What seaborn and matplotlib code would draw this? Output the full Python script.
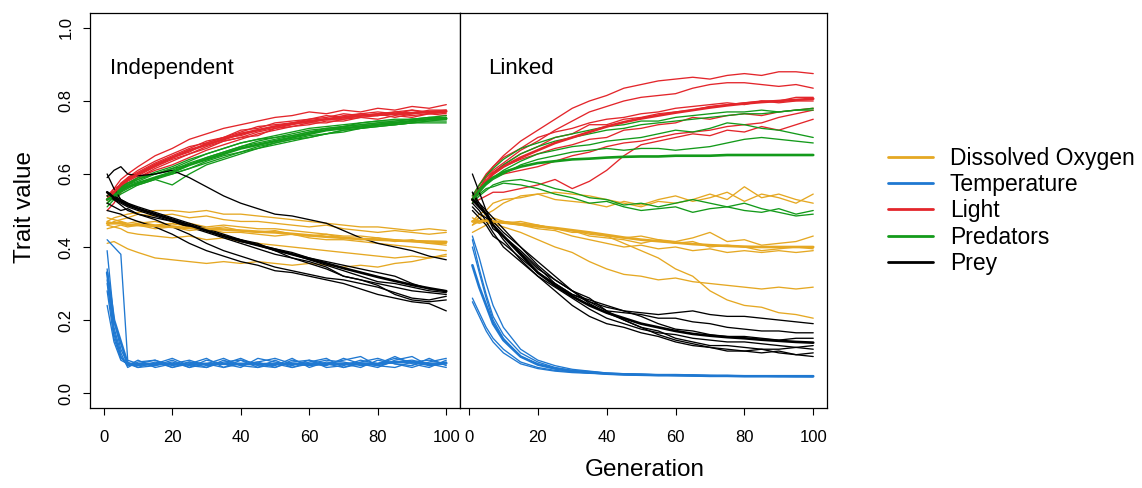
"""Trait trajectories over generations, independent vs linked traits."""

import matplotlib

matplotlib.use("Agg")

import matplotlib.pyplot as plt
import pandas as pd
import seaborn as sns
from matplotlib.lines import Line2D

GENERATIONS = [1, 3, 5, 7, 10, 15, 20, 25, 30, 35, 40, 45, 50, 55, 60, 65, 70, 75, 80, 85, 90, 95, 100]
TRAITS = ["Dissolved Oxygen", "Temperature", "Light", "Predators", "Prey"]
COLORS = {
    "Dissolved Oxygen": "#E5A823",
    "Temperature": "#1F78D1",
    "Light": "#E3262B",
    "Predators": "#139A1A",
    "Prey": "#000000",
}
X_TICKS = [0, 20, 40, 60, 80, 100]
Y_TICKS = [0.0, 0.2, 0.4, 0.6, 0.8, 1.0]

# ---- Independent panel: replicate runs and their mean ----
IND_OXYGEN = [
    [0.47, 0.48, 0.485, 0.49, 0.495, 0.50, 0.50, 0.495, 0.50, 0.49, 0.49, 0.485, 0.48, 0.475, 0.47, 0.465, 0.46, 0.455, 0.455, 0.45, 0.445, 0.45, 0.445],
    [0.46, 0.47, 0.475, 0.48, 0.49, 0.485, 0.49, 0.48, 0.485, 0.475, 0.47, 0.47, 0.465, 0.46, 0.455, 0.46, 0.45, 0.445, 0.44, 0.445, 0.44, 0.435, 0.44],
    [0.47, 0.465, 0.47, 0.46, 0.465, 0.47, 0.46, 0.465, 0.455, 0.46, 0.455, 0.45, 0.45, 0.445, 0.44, 0.435, 0.43, 0.43, 0.425, 0.42, 0.415, 0.41, 0.41],
    [0.45, 0.455, 0.46, 0.455, 0.46, 0.45, 0.455, 0.445, 0.45, 0.44, 0.44, 0.435, 0.43, 0.435, 0.425, 0.42, 0.42, 0.415, 0.41, 0.405, 0.40, 0.395, 0.39],
    [0.48, 0.475, 0.47, 0.465, 0.47, 0.46, 0.465, 0.455, 0.45, 0.455, 0.445, 0.44, 0.445, 0.435, 0.43, 0.435, 0.425, 0.42, 0.425, 0.415, 0.42, 0.41, 0.405],
    [0.41, 0.415, 0.405, 0.395, 0.385, 0.37, 0.365, 0.36, 0.355, 0.36, 0.355, 0.36, 0.355, 0.35, 0.355, 0.35, 0.345, 0.35, 0.345, 0.355, 0.36, 0.37, 0.375],
    [0.46, 0.455, 0.45, 0.44, 0.435, 0.43, 0.425, 0.43, 0.42, 0.425, 0.415, 0.41, 0.405, 0.40, 0.395, 0.39, 0.385, 0.38, 0.375, 0.37, 0.375, 0.37, 0.38],
]
IND_OXYGEN_MEAN = [0.465, 0.465, 0.465, 0.46, 0.46, 0.458, 0.455, 0.452, 0.45, 0.448, 0.445, 0.442, 0.44, 0.436, 0.432, 0.428, 0.425, 0.422, 0.42, 0.418, 0.416, 0.415, 0.414]

IND_TEMPERATURE = [
    [0.42, 0.40, 0.38, 0.09, 0.08, 0.075, 0.09, 0.07, 0.08, 0.095, 0.075, 0.085, 0.07, 0.09, 0.08, 0.075, 0.095, 0.08, 0.07, 0.09, 0.10, 0.075, 0.085],
    [0.39, 0.20, 0.12, 0.08, 0.07, 0.085, 0.07, 0.08, 0.095, 0.07, 0.09, 0.08, 0.075, 0.095, 0.07, 0.085, 0.08, 0.07, 0.09, 0.08, 0.075, 0.095, 0.075],
    [0.31, 0.16, 0.10, 0.075, 0.09, 0.07, 0.08, 0.09, 0.075, 0.08, 0.07, 0.095, 0.085, 0.075, 0.09, 0.07, 0.075, 0.09, 0.08, 0.10, 0.08, 0.07, 0.09],
    [0.24, 0.14, 0.09, 0.08, 0.075, 0.08, 0.095, 0.075, 0.07, 0.085, 0.09, 0.07, 0.08, 0.07, 0.085, 0.095, 0.07, 0.08, 0.075, 0.085, 0.09, 0.08, 0.07],
    [0.34, 0.18, 0.11, 0.07, 0.085, 0.09, 0.075, 0.085, 0.08, 0.07, 0.08, 0.085, 0.095, 0.08, 0.075, 0.08, 0.09, 0.10, 0.075, 0.07, 0.085, 0.09, 0.08],
    [0.28, 0.15, 0.095, 0.085, 0.07, 0.075, 0.085, 0.07, 0.09, 0.08, 0.095, 0.075, 0.07, 0.085, 0.09, 0.08, 0.07, 0.085, 0.095, 0.08, 0.07, 0.085, 0.095],
    [0.30, 0.17, 0.10, 0.075, 0.08, 0.09, 0.07, 0.085, 0.07, 0.09, 0.075, 0.07, 0.09, 0.07, 0.08, 0.09, 0.085, 0.075, 0.08, 0.095, 0.085, 0.075, 0.08],
]
IND_TEMPERATURE_MEAN = [0.33, 0.20, 0.14, 0.08, 0.079, 0.08, 0.079, 0.078, 0.08, 0.08, 0.08, 0.079, 0.08, 0.08, 0.08, 0.08, 0.08, 0.081, 0.08, 0.085, 0.084, 0.08, 0.082]

IND_LIGHT = [
    [0.53, 0.56, 0.585, 0.60, 0.62, 0.65, 0.67, 0.695, 0.71, 0.725, 0.735, 0.745, 0.755, 0.76, 0.77, 0.765, 0.775, 0.77, 0.78, 0.775, 0.785, 0.78, 0.79],
    [0.52, 0.54, 0.56, 0.58, 0.595, 0.62, 0.645, 0.66, 0.685, 0.70, 0.72, 0.725, 0.74, 0.745, 0.75, 0.76, 0.755, 0.765, 0.77, 0.765, 0.775, 0.77, 0.775],
    [0.54, 0.55, 0.565, 0.575, 0.59, 0.615, 0.635, 0.655, 0.67, 0.69, 0.70, 0.715, 0.725, 0.735, 0.745, 0.75, 0.76, 0.765, 0.76, 0.77, 0.765, 0.77, 0.765],
    [0.53, 0.545, 0.56, 0.59, 0.605, 0.63, 0.65, 0.67, 0.69, 0.70, 0.715, 0.73, 0.735, 0.74, 0.75, 0.755, 0.765, 0.76, 0.765, 0.77, 0.775, 0.765, 0.77],
    [0.50, 0.52, 0.55, 0.57, 0.59, 0.61, 0.625, 0.645, 0.665, 0.68, 0.695, 0.71, 0.72, 0.73, 0.735, 0.745, 0.745, 0.755, 0.75, 0.76, 0.755, 0.765, 0.76],
    [0.53, 0.55, 0.575, 0.59, 0.61, 0.635, 0.655, 0.675, 0.685, 0.70, 0.705, 0.72, 0.73, 0.74, 0.74, 0.75, 0.75, 0.76, 0.765, 0.755, 0.765, 0.775, 0.775],
    [0.54, 0.56, 0.57, 0.585, 0.60, 0.62, 0.64, 0.655, 0.675, 0.69, 0.70, 0.705, 0.725, 0.73, 0.74, 0.74, 0.75, 0.755, 0.76, 0.765, 0.76, 0.765, 0.77],
]
IND_LIGHT_MEAN = [0.53, 0.55, 0.57, 0.585, 0.60, 0.625, 0.645, 0.665, 0.68, 0.695, 0.71, 0.72, 0.73, 0.738, 0.745, 0.75, 0.755, 0.76, 0.762, 0.765, 0.767, 0.77, 0.772]

IND_PREDATORS = [
    [0.52, 0.54, 0.56, 0.57, 0.58, 0.60, 0.615, 0.635, 0.655, 0.67, 0.685, 0.695, 0.70, 0.71, 0.72, 0.725, 0.73, 0.74, 0.745, 0.75, 0.75, 0.755, 0.76],
    [0.54, 0.55, 0.56, 0.575, 0.585, 0.60, 0.61, 0.63, 0.645, 0.66, 0.675, 0.685, 0.695, 0.705, 0.715, 0.72, 0.73, 0.735, 0.74, 0.745, 0.75, 0.755, 0.755],
    [0.53, 0.545, 0.555, 0.565, 0.57, 0.585, 0.57, 0.60, 0.625, 0.64, 0.655, 0.67, 0.685, 0.695, 0.70, 0.71, 0.72, 0.725, 0.735, 0.735, 0.74, 0.745, 0.745],
    [0.51, 0.53, 0.545, 0.555, 0.57, 0.585, 0.60, 0.615, 0.63, 0.645, 0.66, 0.675, 0.685, 0.695, 0.705, 0.71, 0.72, 0.725, 0.73, 0.735, 0.74, 0.74, 0.74],
    [0.53, 0.545, 0.56, 0.57, 0.585, 0.605, 0.62, 0.64, 0.655, 0.67, 0.685, 0.695, 0.705, 0.715, 0.725, 0.73, 0.735, 0.74, 0.745, 0.745, 0.75, 0.75, 0.75],
    [0.52, 0.535, 0.55, 0.56, 0.575, 0.59, 0.60, 0.615, 0.635, 0.65, 0.66, 0.67, 0.68, 0.69, 0.70, 0.71, 0.715, 0.725, 0.73, 0.735, 0.74, 0.745, 0.75],
    [0.53, 0.55, 0.565, 0.575, 0.59, 0.60, 0.615, 0.625, 0.645, 0.66, 0.675, 0.69, 0.70, 0.705, 0.715, 0.725, 0.73, 0.735, 0.74, 0.74, 0.745, 0.75, 0.755],
]
IND_PREDATORS_MEAN = [0.53, 0.54, 0.555, 0.565, 0.575, 0.59, 0.605, 0.625, 0.64, 0.655, 0.67, 0.68, 0.69, 0.70, 0.71, 0.72, 0.725, 0.73, 0.735, 0.74, 0.745, 0.75, 0.752]

IND_PREY = [
    [0.59, 0.61, 0.62, 0.60, 0.595, 0.60, 0.61, 0.59, 0.565, 0.54, 0.52, 0.505, 0.49, 0.485, 0.475, 0.465, 0.445, 0.425, 0.41, 0.40, 0.39, 0.375, 0.365],
    [0.60, 0.56, 0.53, 0.52, 0.51, 0.495, 0.48, 0.465, 0.45, 0.435, 0.42, 0.41, 0.39, 0.38, 0.365, 0.35, 0.335, 0.32, 0.305, 0.30, 0.29, 0.28, 0.275],
    [0.55, 0.53, 0.515, 0.50, 0.49, 0.475, 0.455, 0.435, 0.41, 0.39, 0.375, 0.36, 0.345, 0.335, 0.325, 0.315, 0.31, 0.30, 0.29, 0.275, 0.26, 0.255, 0.265],
    [0.50, 0.495, 0.49, 0.48, 0.47, 0.455, 0.435, 0.41, 0.39, 0.375, 0.36, 0.35, 0.335, 0.33, 0.32, 0.31, 0.30, 0.285, 0.27, 0.26, 0.25, 0.245, 0.225],
    [0.52, 0.51, 0.50, 0.505, 0.49, 0.48, 0.47, 0.455, 0.44, 0.425, 0.41, 0.395, 0.38, 0.37, 0.36, 0.345, 0.32, 0.31, 0.295, 0.27, 0.255, 0.25, 0.255],
    [0.55, 0.54, 0.53, 0.52, 0.505, 0.49, 0.475, 0.46, 0.445, 0.43, 0.415, 0.405, 0.395, 0.385, 0.37, 0.36, 0.35, 0.34, 0.33, 0.32, 0.30, 0.285, 0.28],
    [0.54, 0.53, 0.52, 0.51, 0.50, 0.485, 0.47, 0.455, 0.445, 0.43, 0.42, 0.405, 0.39, 0.37, 0.355, 0.34, 0.32, 0.31, 0.30, 0.29, 0.28, 0.275, 0.27],
]
IND_PREY_MEAN = [0.55, 0.535, 0.525, 0.515, 0.505, 0.49, 0.475, 0.46, 0.445, 0.43, 0.417, 0.405, 0.393, 0.38, 0.368, 0.355, 0.342, 0.33, 0.318, 0.307, 0.296, 0.287, 0.279]

# ---- Linked panel: replicate runs and their mean ----
LNK_OXYGEN = [
    [0.47, 0.49, 0.50, 0.52, 0.53, 0.535, 0.545, 0.53, 0.525, 0.52, 0.51, 0.525, 0.515, 0.53, 0.54, 0.525, 0.535, 0.55, 0.525, 0.545, 0.535, 0.52, 0.545],
    [0.46, 0.48, 0.49, 0.50, 0.52, 0.54, 0.545, 0.55, 0.545, 0.54, 0.53, 0.52, 0.51, 0.525, 0.52, 0.53, 0.545, 0.53, 0.565, 0.535, 0.545, 0.53, 0.52],
    [0.48, 0.47, 0.475, 0.465, 0.47, 0.46, 0.455, 0.45, 0.445, 0.43, 0.425, 0.42, 0.41, 0.42, 0.415, 0.425, 0.44, 0.415, 0.42, 0.405, 0.41, 0.415, 0.43],
    [0.47, 0.48, 0.47, 0.48, 0.47, 0.465, 0.46, 0.45, 0.44, 0.44, 0.43, 0.425, 0.43, 0.42, 0.41, 0.415, 0.40, 0.405, 0.40, 0.39, 0.395, 0.40, 0.395],
    [0.47, 0.465, 0.47, 0.465, 0.455, 0.44, 0.42, 0.40, 0.385, 0.36, 0.34, 0.325, 0.32, 0.31, 0.315, 0.305, 0.30, 0.295, 0.29, 0.285, 0.29, 0.285, 0.29],
    [0.46, 0.47, 0.475, 0.47, 0.465, 0.47, 0.46, 0.45, 0.445, 0.435, 0.43, 0.41, 0.39, 0.37, 0.34, 0.32, 0.28, 0.255, 0.24, 0.235, 0.22, 0.215, 0.205],
    [0.44, 0.45, 0.46, 0.47, 0.465, 0.46, 0.45, 0.445, 0.43, 0.42, 0.41, 0.40, 0.405, 0.395, 0.40, 0.39, 0.395, 0.385, 0.39, 0.385, 0.39, 0.385, 0.39],
]
LNK_OXYGEN_MEAN = [0.47, 0.47, 0.472, 0.47, 0.468, 0.462, 0.457, 0.452, 0.446, 0.44, 0.433, 0.426, 0.42, 0.416, 0.412, 0.408, 0.405, 0.403, 0.401, 0.40, 0.40, 0.40, 0.40]

LNK_TEMPERATURE = [
    [0.43, 0.37, 0.30, 0.24, 0.18, 0.12, 0.09, 0.075, 0.065, 0.06, 0.055, 0.053, 0.052, 0.05, 0.05, 0.049, 0.048, 0.048, 0.047, 0.047, 0.047, 0.046, 0.046],
    [0.42, 0.34, 0.27, 0.21, 0.16, 0.11, 0.085, 0.07, 0.062, 0.058, 0.054, 0.052, 0.051, 0.05, 0.049, 0.049, 0.048, 0.047, 0.047, 0.046, 0.046, 0.046, 0.046],
    [0.40, 0.33, 0.26, 0.20, 0.15, 0.10, 0.08, 0.068, 0.06, 0.056, 0.053, 0.051, 0.05, 0.049, 0.048, 0.048, 0.047, 0.047, 0.046, 0.046, 0.046, 0.045, 0.045],
    [0.26, 0.22, 0.18, 0.15, 0.12, 0.085, 0.07, 0.062, 0.058, 0.055, 0.053, 0.051, 0.05, 0.049, 0.048, 0.048, 0.047, 0.047, 0.046, 0.046, 0.046, 0.046, 0.045],
    [0.25, 0.21, 0.17, 0.14, 0.11, 0.08, 0.067, 0.06, 0.056, 0.054, 0.052, 0.05, 0.049, 0.048, 0.048, 0.047, 0.047, 0.046, 0.046, 0.046, 0.045, 0.045, 0.045],
]
LNK_TEMPERATURE_MEAN = [0.35, 0.29, 0.24, 0.19, 0.145, 0.10, 0.078, 0.067, 0.06, 0.057, 0.053, 0.051, 0.05, 0.049, 0.049, 0.048, 0.047, 0.047, 0.046, 0.046, 0.046, 0.046, 0.046]

LNK_LIGHT = [
    [0.53, 0.57, 0.60, 0.62, 0.65, 0.69, 0.72, 0.75, 0.78, 0.80, 0.815, 0.835, 0.845, 0.855, 0.86, 0.865, 0.86, 0.87, 0.875, 0.87, 0.88, 0.88, 0.875],
    [0.52, 0.56, 0.59, 0.61, 0.63, 0.665, 0.69, 0.72, 0.745, 0.77, 0.785, 0.80, 0.81, 0.815, 0.82, 0.835, 0.845, 0.85, 0.85, 0.845, 0.84, 0.845, 0.835],
    [0.54, 0.56, 0.59, 0.605, 0.625, 0.655, 0.675, 0.70, 0.71, 0.735, 0.735, 0.75, 0.755, 0.765, 0.77, 0.775, 0.785, 0.79, 0.795, 0.80, 0.80, 0.81, 0.81],
    [0.53, 0.55, 0.575, 0.60, 0.62, 0.64, 0.655, 0.67, 0.68, 0.695, 0.70, 0.72, 0.725, 0.735, 0.74, 0.755, 0.75, 0.76, 0.765, 0.76, 0.77, 0.775, 0.78],
    [0.53, 0.555, 0.58, 0.59, 0.60, 0.61, 0.62, 0.635, 0.65, 0.66, 0.675, 0.685, 0.69, 0.70, 0.71, 0.715, 0.72, 0.73, 0.735, 0.74, 0.755, 0.765, 0.775],
    [0.52, 0.53, 0.54, 0.55, 0.55, 0.56, 0.57, 0.585, 0.56, 0.58, 0.61, 0.65, 0.68, 0.69, 0.70, 0.71, 0.705, 0.72, 0.715, 0.73, 0.72, 0.735, 0.75],
    [0.54, 0.57, 0.595, 0.62, 0.645, 0.67, 0.70, 0.715, 0.725, 0.74, 0.75, 0.755, 0.765, 0.77, 0.78, 0.785, 0.79, 0.795, 0.79, 0.80, 0.795, 0.80, 0.80],
]
LNK_LIGHT_MEAN = [0.53, 0.555, 0.58, 0.60, 0.62, 0.645, 0.665, 0.685, 0.70, 0.715, 0.73, 0.742, 0.752, 0.76, 0.768, 0.775, 0.782, 0.788, 0.793, 0.797, 0.80, 0.803, 0.806]

LNK_PREDATORS = [
    [0.53, 0.56, 0.58, 0.60, 0.625, 0.655, 0.675, 0.69, 0.70, 0.71, 0.72, 0.725, 0.735, 0.74, 0.745, 0.75, 0.755, 0.76, 0.765, 0.765, 0.77, 0.775, 0.78],
    [0.54, 0.57, 0.595, 0.615, 0.64, 0.67, 0.685, 0.70, 0.71, 0.72, 0.73, 0.735, 0.745, 0.745, 0.755, 0.76, 0.765, 0.77, 0.77, 0.775, 0.77, 0.775, 0.775],
    [0.52, 0.55, 0.575, 0.59, 0.61, 0.635, 0.655, 0.665, 0.675, 0.68, 0.69, 0.695, 0.70, 0.71, 0.72, 0.715, 0.725, 0.74, 0.735, 0.725, 0.72, 0.71, 0.70],
    [0.53, 0.55, 0.57, 0.585, 0.60, 0.625, 0.64, 0.65, 0.66, 0.665, 0.67, 0.665, 0.67, 0.67, 0.665, 0.67, 0.675, 0.685, 0.695, 0.70, 0.695, 0.69, 0.685],
    [0.53, 0.545, 0.56, 0.565, 0.575, 0.57, 0.56, 0.545, 0.535, 0.52, 0.525, 0.51, 0.50, 0.505, 0.51, 0.495, 0.505, 0.51, 0.50, 0.495, 0.505, 0.49, 0.50],
    [0.52, 0.54, 0.555, 0.57, 0.58, 0.585, 0.575, 0.56, 0.55, 0.535, 0.53, 0.515, 0.52, 0.51, 0.52, 0.53, 0.52, 0.51, 0.52, 0.505, 0.495, 0.485, 0.49],
]
LNK_PREDATORS_MEAN = [0.53, 0.555, 0.575, 0.59, 0.605, 0.62, 0.63, 0.635, 0.64, 0.642, 0.645, 0.647, 0.648, 0.648, 0.65, 0.65, 0.65, 0.652, 0.652, 0.652, 0.652, 0.652, 0.652]

LNK_PREY = [
    [0.55, 0.52, 0.49, 0.47, 0.44, 0.40, 0.36, 0.32, 0.28, 0.25, 0.235, 0.225, 0.22, 0.215, 0.22, 0.225, 0.215, 0.21, 0.21, 0.205, 0.20, 0.195, 0.19],
    [0.50, 0.48, 0.46, 0.43, 0.41, 0.37, 0.33, 0.30, 0.27, 0.25, 0.225, 0.22, 0.215, 0.205, 0.205, 0.195, 0.19, 0.18, 0.175, 0.17, 0.17, 0.165, 0.165],
    [0.60, 0.55, 0.50, 0.46, 0.42, 0.365, 0.32, 0.29, 0.26, 0.23, 0.205, 0.19, 0.175, 0.165, 0.16, 0.15, 0.145, 0.14, 0.14, 0.135, 0.13, 0.125, 0.12],
    [0.52, 0.50, 0.47, 0.44, 0.40, 0.36, 0.32, 0.28, 0.24, 0.21, 0.19, 0.18, 0.165, 0.155, 0.14, 0.13, 0.125, 0.12, 0.115, 0.12, 0.11, 0.105, 0.10],
    [0.53, 0.52, 0.50, 0.48, 0.45, 0.40, 0.35, 0.31, 0.28, 0.26, 0.225, 0.20, 0.18, 0.16, 0.145, 0.135, 0.125, 0.115, 0.115, 0.11, 0.115, 0.105, 0.11],
    [0.55, 0.51, 0.49, 0.45, 0.43, 0.39, 0.345, 0.30, 0.27, 0.255, 0.24, 0.225, 0.21, 0.19, 0.175, 0.17, 0.16, 0.155, 0.155, 0.15, 0.145, 0.15, 0.15],
    [0.51, 0.49, 0.48, 0.46, 0.43, 0.385, 0.34, 0.31, 0.28, 0.245, 0.22, 0.20, 0.18, 0.17, 0.15, 0.14, 0.13, 0.13, 0.125, 0.12, 0.12, 0.125, 0.13],
]
LNK_PREY_MEAN = [0.53, 0.51, 0.49, 0.46, 0.43, 0.38, 0.33, 0.295, 0.265, 0.24, 0.22, 0.205, 0.19, 0.18, 0.17, 0.162, 0.157, 0.153, 0.15, 0.146, 0.143, 0.14, 0.138]

PANELS = {
    "Independent": {
        "Dissolved Oxygen": (IND_OXYGEN, IND_OXYGEN_MEAN),
        "Temperature": (IND_TEMPERATURE, IND_TEMPERATURE_MEAN),
        "Light": (IND_LIGHT, IND_LIGHT_MEAN),
        "Predators": (IND_PREDATORS, IND_PREDATORS_MEAN),
        "Prey": (IND_PREY, IND_PREY_MEAN),
    },
    "Linked": {
        "Dissolved Oxygen": (LNK_OXYGEN, LNK_OXYGEN_MEAN),
        "Temperature": (LNK_TEMPERATURE, LNK_TEMPERATURE_MEAN),
        "Light": (LNK_LIGHT, LNK_LIGHT_MEAN),
        "Predators": (LNK_PREDATORS, LNK_PREDATORS_MEAN),
        "Prey": (LNK_PREY, LNK_PREY_MEAN),
    },
}


def build_frame() -> pd.DataFrame:
    """Long table: one row per panel, trait, run and generation."""
    rows = []
    for panel, traits in PANELS.items():
        for trait, (runs, mean) in traits.items():
            for run_id, run in enumerate(runs):
                for gen, value in zip(GENERATIONS, run):
                    rows.append({"panel": panel, "trait": trait, "run": run_id,
                                 "kind": "run", "generation": gen, "value": value})
            for gen, value in zip(GENERATIONS, mean):
                rows.append({"panel": panel, "trait": trait, "run": -1,
                             "kind": "mean", "generation": gen, "value": value})
    return pd.DataFrame(rows)


def style_axis(axis, show_y: bool) -> None:
    axis.set_ylim(-0.041, 1.041)
    axis.set_xticks(X_TICKS)
    axis.set_xticklabels([str(t) for t in X_TICKS])
    axis.tick_params(axis="x", bottom=True, direction="out", length=5, width=0.8,
                     pad=11, labelsize=12, colors="black")
    if show_y:
        axis.set_yticks(Y_TICKS)
        axis.set_yticklabels([f"{t:.1f}" for t in Y_TICKS], rotation=90, va="center")
        axis.tick_params(axis="y", left=True, direction="out", length=5, width=0.8,
                         pad=7, labelsize=12, colors="black")
    else:
        axis.set_yticks([])
    for spine in axis.spines.values():
        spine.set_visible(True)
        spine.set_color("black")
        spine.set_linewidth(0.9)
    axis.set_xlabel("")
    axis.set_ylabel("")
    axis.grid(False)


def main() -> None:
    data = build_frame()

    sns.set_theme(style="ticks")
    plt.rcParams["font.family"] = ["Liberation Sans", "DejaVu Sans"]
    plt.rcParams["text.color"] = "black"

    fig = plt.figure(figsize=(11.42, 4.88), dpi=100)
    bottom = 1 - 408 / 488
    height = 395 / 488
    left_ax = fig.add_axes([90 / 1142, bottom, 370 / 1142, height])
    right_ax = fig.add_axes([460 / 1142, bottom, 367 / 1142, height])

    for axis, panel, xlim in [(left_ax, "Independent", (-4, 104)), (right_ax, "Linked", (-2.6, 104))]:
        panel_data = data[data["panel"] == panel]
        for trait in TRAITS:
            runs = panel_data[(panel_data["trait"] == trait) & (panel_data["kind"] == "run")]
            sns.lineplot(data=runs, x="generation", y="value", units="run", estimator=None,
                         color=COLORS[trait], linewidth=0.95, ax=axis, legend=False)
        for trait in TRAITS:
            mean = panel_data[(panel_data["trait"] == trait) & (panel_data["kind"] == "mean")]
            sns.lineplot(data=mean, x="generation", y="value", estimator=None,
                         color=COLORS[trait], linewidth=1.9, ax=axis, legend=False)
        axis.set_xlim(*xlim)
        style_axis(axis, show_y=axis is left_ax)

    left_ax.text(1.8, 0.89, "Independent", fontsize=16, ha="left", va="center", color="black")
    right_ax.text(5.5, 0.89, "Linked", fontsize=16, ha="left", va="center", color="black")

    fig.text(25 / 1142, 1 - 207 / 488, "Trait value", rotation=90, fontsize=17.5,
             ha="center", va="center", color="black")
    fig.text(645 / 1142, 1 - 470 / 488, "Generation", fontsize=17.5,
             ha="center", va="center", color="black")

    handles = [Line2D([0], [0], color=COLORS[t], linewidth=2) for t in TRAITS]
    legend = fig.legend(handles, TRAITS, loc="center left",
                        bbox_to_anchor=(888 / 1142, 1 - 211 / 488),
                        frameon=False, fontsize=16.5, handlelength=1.95, handletextpad=0.75,
                        labelspacing=0.14, borderpad=0, borderaxespad=0)
    for text in legend.get_texts():
        text.set_color("black")

    fig.savefig("out.png", dpi=100)
    plt.close(fig)


if __name__ == "__main__":
    main()
